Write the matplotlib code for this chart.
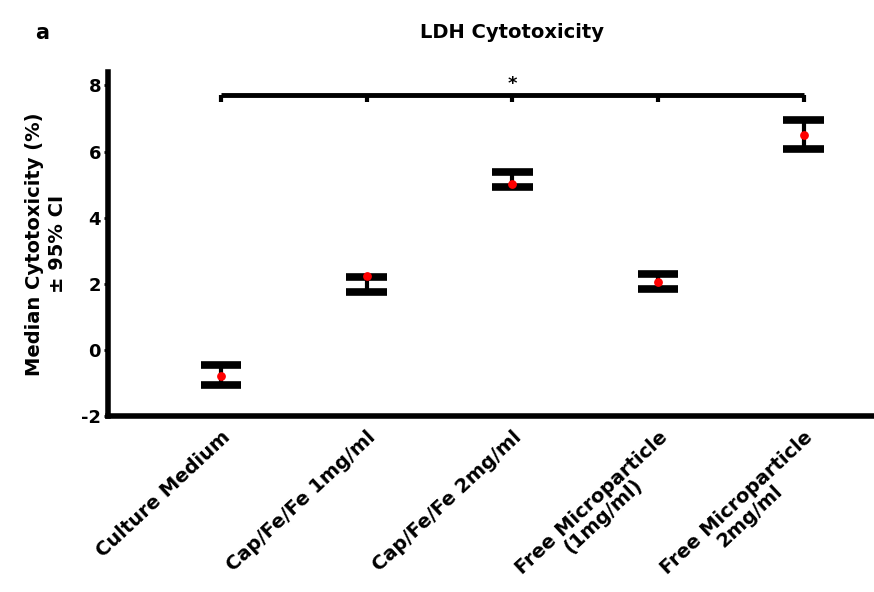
import numpy as np
import matplotlib
matplotlib.use('Agg')
import matplotlib.pyplot as plt

plt.rcParams['font.family'] = ['DejaVu Sans']
plt.rcParams['font.weight'] = 'bold'

# data
categories = ['Culture Medium', 'Cap/Fe/Fe 1mg/ml', 'Cap/Fe/Fe 2mg/ml',
              'Free Microparticle\n(1mg/ml)', 'Free Microparticle\n2mg/ml']
medians = [-0.78, 2.25, 5.03, 2.07, 6.5]
ci_low = [-1.07, 1.74, 4.94, 1.86, 6.07]
ci_high = [-0.46, 2.2, 5.37, 2.29, 6.95]
yticks = [-2, 0, 2, 4, 6, 8]

fig = plt.figure(figsize=(8.74, 5.92), dpi=100)
ax = fig.add_axes([0.1236, 0.297, 0.876, 0.581])

xpos = np.arange(len(categories))
med = np.array(medians)
lo = np.array(ci_low)
hi = np.array(ci_high)

# CI bars: thick caps with a vertical line between them
ax.vlines(xpos, lo, hi, color='black', lw=3, zorder=2)
ax.hlines(lo, xpos - 0.14, xpos + 0.14, color='black', lw=5.5, zorder=3)
ax.hlines(hi, xpos - 0.14, xpos + 0.14, color='black', lw=5.5, zorder=3)
ax.scatter(xpos, med, color='red', s=28, zorder=4)

# significance bracket
ybr = 7.7
ax.hlines(ybr, xpos[0], xpos[-1], color='black', lw=3.5, clip_on=False)
ax.vlines(xpos, ybr - 0.2, ybr, color='black', lw=3, clip_on=False)
ax.text(xpos[2], ybr + 0.08, '*', ha='center', va='bottom', fontsize=13,
        fontweight='bold')

ax.set_xlim(-0.775, 4.48)
ax.set_ylim(-2, 8.4)
ax.set_yticks(yticks)
ax.set_yticklabels([str(v) for v in yticks], fontsize=13, fontweight='bold')
ax.set_xticks(xpos)
ax.set_xticklabels(categories, rotation=43, ha='right', rotation_mode='anchor',
                   fontsize=14, fontweight='bold', linespacing=0.95,
                   multialignment='center')
ax.tick_params(axis='x', length=0, pad=8)
ax.tick_params(axis='y', length=3, width=2, pad=2)

for side in ['top', 'right']:
    ax.spines[side].set_visible(False)
for side in ['left', 'bottom']:
    ax.spines[side].set_linewidth(4)

ax.set_ylabel('Median Cytotoxicity (%)\n\u00b1 95% CI', fontsize=14,
              fontweight='bold', labelpad=10, linespacing=1.3)
fig.text(0.586, 0.945, 'LDH Cytotoxicity', ha='center', va='center',
         fontsize=14, fontweight='bold')
fig.text(0.048, 0.945, 'a', ha='center', va='center', fontsize=15,
         fontweight='bold')

fig.savefig('out.png', dpi=100)
